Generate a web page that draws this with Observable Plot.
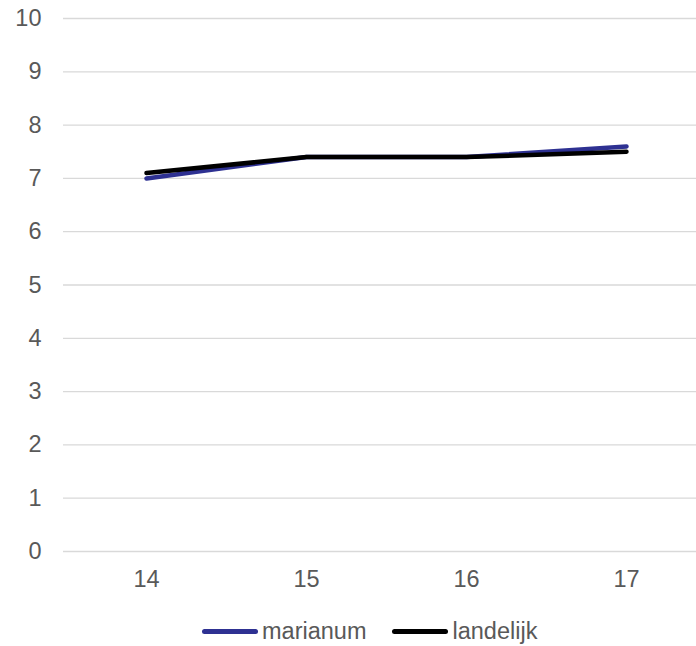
<!DOCTYPE html>
<html>
<head>
<meta charset="utf-8">
<script src="https://cdn.jsdelivr.net/npm/d3@7"></script>
<script src="https://cdn.jsdelivr.net/npm/@observablehq/plot@0.6"></script>
<style>
  html, body { margin: 0; padding: 0; background: #fff; }
  body { width: 696px; height: 646px; overflow: hidden; font-family: "Liberation Sans", Arial, sans-serif; }
  #legend { display: flex; align-items: center; height: 62px; padding-left: 202px; font-size: 23.5px; color: #595959; }
  .item { display: flex; align-items: center; margin-right: 26px; }
  .swatch { width: 56px; height: 5px; border-radius: 3px; margin-right: 4px; }
</style>
</head>
<body>
<div id="chart"></div>
<div id="legend"></div>
<script>
const categories = ["14", "15", "16", "17"];
const marianum = [7.0, 7.4, 7.4, 7.6];
const landelijk = [7.1, 7.4, 7.4, 7.5];
const yTicks = [0, 1, 2, 3, 4, 5, 6, 7, 8, 9, 10];
const seriesNames = ["marianum", "landelijk"];
const seriesColors = ["#2e3192", "#000000"];

const data = [
  ...categories.map((c, i) => ({cat: c, value: marianum[i], series: "marianum"})),
  ...categories.map((c, i) => ({cat: c, value: landelijk[i], series: "landelijk"}))
];

const chart = Plot.plot({
  width: 696,
  height: 600,
  marginTop: 18,
  marginBottom: 49,
  marginLeft: 63,
  marginRight: 0,
  style: {fontFamily: '"Liberation Sans", Arial, sans-serif', fontSize: "23.5px", color: "#595959", background: "#fff"},
  x: {type: "point", domain: categories, padding: 0.466, align: 0.54, label: null},
  y: {domain: [0, 10], label: null},
  color: {domain: seriesNames, range: seriesColors},
  marks: [
    Plot.ruleY(yTicks, {stroke: "#d9d9d9", strokeWidth: 1.3}),
    Plot.axisY({ticks: yTicks, tickSize: 0, tickPadding: 22, label: null, fontSize: 23.5}),
    Plot.axisX({tickSize: 0, tickPadding: 19, label: null, fontSize: 23.5}),
    Plot.lineY(data.filter(d => d.series === "marianum"), {x: "cat", y: "value", stroke: "series", strokeWidth: 4.5, strokeLinecap: "round", strokeLinejoin: "round"}),
    Plot.lineY(data.filter(d => d.series === "landelijk"), {x: "cat", y: "value", stroke: "series", strokeWidth: 4.5, strokeLinecap: "round", strokeLinejoin: "round"})
  ]
});
document.getElementById("chart").appendChild(chart);

const legend = document.getElementById("legend");
seriesNames.forEach((name, i) => {
  const item = document.createElement("div");
  item.className = "item";
  const sw = document.createElement("div");
  sw.className = "swatch";
  sw.style.background = seriesColors[i];
  const label = document.createElement("span");
  label.textContent = name;
  item.appendChild(sw);
  item.appendChild(label);
  legend.appendChild(item);
});
</script>
</body>
</html>
